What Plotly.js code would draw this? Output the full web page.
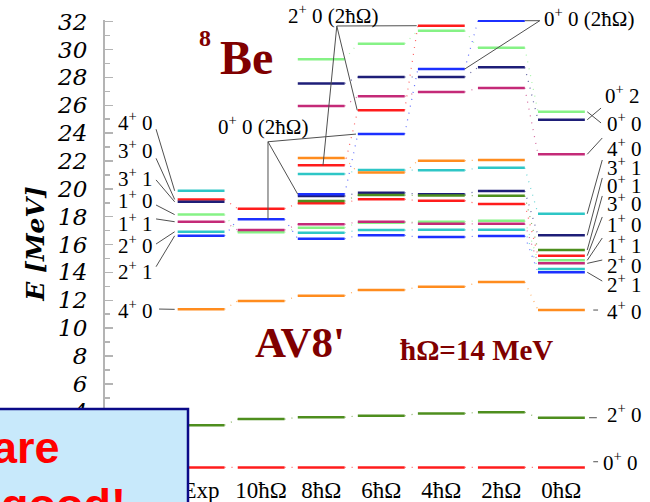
<!DOCTYPE html>
<html><head><meta charset="utf-8">
<script src="https://cdn.plot.ly/plotly-3.0.1.min.js"></script>
<style>html,body{margin:0;padding:0;background:#fff}#chart{width:650px;height:502px}</style>
</head><body><div id="chart"></div>
<script>
// 8Be spectrum: experiment and NCSM results (AV8', hΩ = 14 MeV) for growing model spaces
const columns = ['Exp', '10ħΩ', '8ħΩ', '6ħΩ', '4ħΩ', '2ħΩ', '0ħΩ'];

// excitation energies (MeV) and colour keys, one pair of arrays per column
const expE = [19.86, 19.24, 19.07, 18.15, 17.64, 16.92, 16.63, 11.35, 3.03, 0];
const expC = ['cyan', 'red', 'navy', 'green', 'magenta', 'cyan', 'blue', 'orange', 'olive', 'red'];

const n10E = [18.57, 17.81, 17.04, 16.88, 11.95, 3.47, 0];
const n10C = ['red', 'blue', 'magenta', 'green', 'orange', 'olive', 'red'];

const n8E = [29.30, 27.57, 25.94, 22.21, 21.69, 21.06, 19.61, 19.48, 19.12, 18.96, 17.45, 17.21, 16.85, 16.42, 12.33, 3.60, 0];
const n8C = ['green', 'navy', 'magenta', 'orange', 'red', 'cyan', 'blue', 'navy', 'olive', 'red', 'magenta', 'green', 'cyan', 'blue', 'orange', 'olive', 'red'];

const n6E = [30.42, 28.03, 26.64, 25.64, 23.93, 21.35, 21.18, 19.72, 19.55, 19.25, 17.64, 17.57, 17.04, 16.66, 12.74, 3.71, 0];
const n6C = ['green', 'navy', 'magenta', 'red', 'blue', 'cyan', 'orange', 'navy', 'olive', 'red', 'magenta', 'green', 'cyan', 'blue', 'orange', 'olive', 'red'];

const n4E = [31.71, 31.35, 28.60, 28.03, 26.95, 22.02, 21.33, 19.61, 19.53, 19.15, 17.64, 17.49, 17.06, 16.54, 12.97, 3.88, 0];
const n4C = ['red', 'green', 'blue', 'navy', 'magenta', 'orange', 'cyan', 'navy', 'olive', 'red', 'green', 'magenta', 'cyan', 'blue', 'orange', 'olive', 'red'];

const n2E = [32.07, 30.13, 28.72, 27.24, 22.07, 21.51, 19.84, 19.50, 18.91, 17.71, 17.49, 17.06, 16.61, 13.31, 3.96, 0];
const n2C = ['blue', 'green', 'navy', 'magenta', 'orange', 'cyan', 'navy', 'olive', 'red', 'green', 'magenta', 'cyan', 'blue', 'orange', 'olive', 'red'];

const n0E = [25.53, 24.96, 22.48, 18.21, 16.66, 15.61, 15.20, 14.87, 14.65, 14.24, 14.01, 11.30, 3.57, 0];
const n0C = ['green', 'navy', 'magenta', 'cyan', 'navy', 'olive', 'red', 'green', 'magenta', 'cyan', 'blue', 'orange', 'olive', 'red'];

// state labels (J^π T)
const leftLabels = ['4<sup>+</sup> 0', '3<sup>+</sup> 0', '3<sup>+</sup> 1', '1<sup>+</sup> 0', '1<sup>+</sup> 1', '2<sup>+</sup> 0', '2<sup>+</sup> 1', '4<sup>+</sup> 0'];
const leftLevel = [0, 1, 2, 3, 4, 5, 6, 7];            // index into expE
const rightLabels = ['0<sup>+</sup> 2', '0<sup>+</sup> 0', '4<sup>+</sup> 0', '3<sup>+</sup> 1', '0<sup>+</sup> 1', '3<sup>+</sup> 0', '1<sup>+</sup> 0', '1<sup>+</sup> 1', '2<sup>+</sup> 0', '2<sup>+</sup> 1', '4<sup>+</sup> 0', '2<sup>+</sup> 0', '0<sup>+</sup> 0'];
const rightLevel = [1, 0, 2, 3, 4, 5, 6, 7, 8, 10, 11, 12, 13]; // index into n0E

const levelE = [expE, n10E, n8E, n6E, n4E, n2E, n0E];
const levelC = [expC, n10C, n8C, n6C, n4C, n2C, n0C];

const palette = {
  red: '#ff1c1c', navy: '#1e1e78', blue: '#1c30ff', cyan: '#2ec6c6',
  green: '#86f286', magenta: '#c42a78', olive: '#4e8e1e', orange: '#ff8c1e'
};

const halfW = 0.39;
const traces = [];

// dotted links between the same-colour levels of neighbouring columns
Object.keys(palette).forEach(key => {
  const xs = [], ys = [];
  for (let c = 0; c < columns.length - 1; c++) {
    const a = levelE[c].filter((e, i) => levelC[c][i] === key).sort((p, q) => p - q);
    const b = levelE[c + 1].filter((e, i) => levelC[c + 1][i] === key).sort((p, q) => p - q);
    for (let k = 0; k < Math.min(a.length, b.length); k++) {
      xs.push(c + halfW, c + 1 - halfW, null);
      ys.push(a[k], b[k], null);
    }
  }
  traces.push({type: 'scatter', mode: 'lines', x: xs, y: ys, hoverinfo: 'skip', showlegend: false,
    opacity: 0.7, line: {color: palette[key], width: 1.2, dash: '1px,6px'}});
});

// the levels themselves
Object.keys(palette).forEach(key => {
  const xs = [], ys = [];
  levelE.forEach((col, c) => col.forEach((e, i) => {
    if (levelC[c][i] === key) { xs.push(c - halfW, c + halfW, null); ys.push(e, e, null); }
  }));
  traces.push({type: 'scatter', mode: 'lines', x: xs, y: ys, hoverinfo: 'skip', showlegend: false,
    line: {color: palette[key], width: 2.5}});
});

// leader lines from the labels to their levels
const lx = [], ly = [];
function seg(x0, y0, x1, y1) { lx.push(x0, x1, null); ly.push(y0, y1, null); }

const leftStartY = [24.28, 22.19, 20.64, 18.84, 17.84, 16.04, 14.41, 11.37];
leftLevel.forEach((li, k) => seg(k === 7 ? -0.70 : -0.75, leftStartY[k], -0.44, expE[li]));

const rightStartY = [25.80, 24.73, 23.65, 22.07, 20.78, 19.49, 17.98, 16.47, 14.89, 13.38];
for (let k = 0; k < 10; k++) seg(k < 2 ? 6.66 : 6.68, rightStartY[k], 6.43, n0E[rightLevel[k]]);
seg(6.53, n0E[11], 6.61, n0E[11]);
seg(6.46, n0E[12], 6.59, n0E[12]);
seg(6.53, 0.41, 6.61, 0.41);

// 2+ 0 (2ħΩ) links
seg(2.26, 31.69, 2.03, n8E[4]);
seg(2.26, 31.69, 2.60, n6E[3]);
seg(2.26, 31.69, 3.59, n4E[0]);
// 0+ 0 (2ħΩ) links, lower label
seg(1.114, 23.38, 1.114, n10E[1]);
seg(1.114, 23.38, 1.61, n8E[6]);
seg(1.114, 23.38, 2.58, n6E[4]);
// 0+ 0 (2ħΩ) links, upper label
seg(5.64, n2E[0], 5.39, n2E[0]);
seg(5.64, n2E[0], 4.39, n4E[2]);

traces.push({type: 'scatter', mode: 'lines', x: lx, y: ly, hoverinfo: 'skip', showlegend: false,
  line: {color: '#505050', width: 1}});

const serif = 'Liberation Serif, Times New Roman, serif';
const labelFont = {family: serif, size: 21, color: '#000'};
const dark = '#800000';
const annotations = [];

const leftLabelY = [24.82, 22.79, 20.83, 19.20, 17.57, 16.02, 14.17, 11.37];
leftLabels.forEach((t, k) => annotations.push({x: -1.41, y: leftLabelY[k], xref: 'x', yref: 'y',
  text: t, showarrow: false, xanchor: 'left', yanchor: 'middle', font: labelFont}));

const rightLabelY = [26.74, 24.75, 22.97, 21.59, 20.30, 19.03, 17.52, 15.97, 14.60, 13.22, 11.30, 3.84, 0.41];
rightLabels.forEach((t, k) => annotations.push({x: k === 0 ? 6.69 : (k === 12 ? 6.66 : 6.72), y: rightLabelY[k],
  xref: 'x', yref: 'y', text: t, showarrow: false, xanchor: 'left', yanchor: 'middle', font: labelFont}));

annotations.push(
  {x: 0.418, y: 1.012, xref: 'paper', yref: 'paper', xanchor: 'center', yanchor: 'middle',
    text: '2<sup>+</sup> 0 (2ħΩ)', showarrow: false, font: labelFont},
  {x: 1.03, y: 24.58, xref: 'x', yref: 'y', text: '0<sup>+</sup> 0 (2ħΩ)', showarrow: false, font: labelFont},
  {x: 0.888, y: 1.006, xref: 'paper', yref: 'paper', xanchor: 'center', yanchor: 'middle',
    text: '0<sup>+</sup> 0 (2ħΩ)', showarrow: false, font: labelFont},
  {x: 0.06, y: 30.85, xref: 'x', yref: 'y', text: '8', showarrow: false,
    font: {family: serif, size: 24, color: dark, weight: 'bold'}},
  {x: 0.76, y: 29.4, xref: 'x', yref: 'y', text: 'Be', showarrow: false,
    font: {family: serif, size: 48, color: dark, weight: 'bold'}},
  {x: 1.64, y: 8.95, xref: 'x', yref: 'y', text: "AV8'", showarrow: false,
    font: {family: serif, size: 43, color: dark, weight: 'bold'}},
  {x: 4.58, y: 8.45, xref: 'x', yref: 'y', text: 'ħΩ=14 MeV', showarrow: false,
    font: {family: serif, size: 29, color: dark, weight: 'bold'}},
  {x: -0.158, y: 0.506, xref: 'paper', yref: 'paper', text: 'E [MeV]', textangle: -90, showarrow: false,
    font: {family: 'DejaVu Serif, serif', size: 25, color: '#000', style: 'italic', weight: 'bold'}},
  {x: -0.079, y: -0.003, xref: 'paper', yref: 'paper', text: 'are', showarrow: false, xanchor: 'right', yanchor: 'bottom',
    font: {family: 'Liberation Sans, Arial, sans-serif', size: 45, color: '#ff0000', weight: 'bold'}},
  {x: -0.194, y: -0.128, xref: 'paper', yref: 'paper', text: 'good!', showarrow: false, xanchor: 'left', yanchor: 'bottom',
    font: {family: 'Liberation Sans, Arial, sans-serif', size: 45, color: '#ff0000', weight: 'bold'}}
);

const layout = {
  width: 650, height: 502,
  margin: {l: 105, r: 0, t: 20, b: 28},
  paper_bgcolor: '#fff', plot_bgcolor: '#fff',
  showlegend: false,
  xaxis: {range: [-1.6, 7.475], showgrid: false, zeroline: false, showline: false, ticks: '',
    tickmode: 'array', tickvals: columns.map((c, i) => i), ticktext: columns,
    tickfont: {family: serif, size: 23, color: '#000'}, fixedrange: true},
  yaxis: {range: [-0.47, 32.12], showgrid: false, zeroline: false, showline: true,
    linecolor: '#b4b4b4', linewidth: 2, ticks: 'inside', ticklen: 8, tickwidth: 1.5, tickcolor: '#b4b4b4',
    tickmode: 'linear', tick0: 0, dtick: 2, ticklabelstandoff: 11,
    minor: {dtick: 1, ticks: 'inside', ticklen: 5, tickcolor: '#b4b4b4', tickwidth: 1.5},
    tickfont: {family: 'DejaVu Serif, serif', size: 23, color: '#000', style: 'italic'}, fixedrange: true},
  shapes: [{type: 'rect', xref: 'paper', yref: 'paper', x0: -0.205, x1: 0.1523, y0: -0.1, y1: 0.1432,
    layer: 'above', fillcolor: '#c8e9fb', line: {color: '#0a0a88', width: 2.5}}],
  annotations: annotations
};

Plotly.newPlot('chart', traces, layout, {staticPlot: true, displayModeBar: false});
</script></body></html>
